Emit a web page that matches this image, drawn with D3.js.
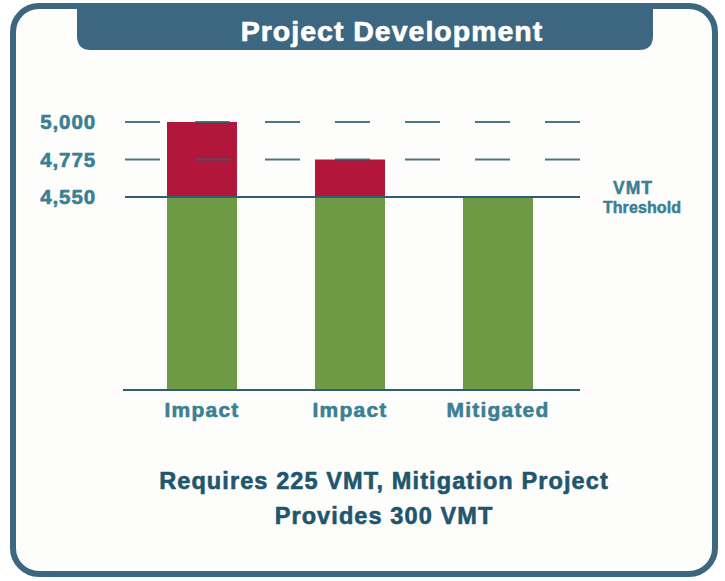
<!DOCTYPE html>
<html>
<head>
<meta charset="utf-8">
<script src="https://cdn.jsdelivr.net/npm/d3@7"></script>
<style>
  html, body { margin: 0; padding: 0; background: #ffffff; }
  svg { display: block; }
  text { font-family: "Liberation Sans", Arial, Helvetica, sans-serif; font-weight: bold; }
</style>
</head>
<body>
<svg id="chart" width="725" height="581"></svg>
<script>
// VMT per scenario
const categories = ["Impact", "Impact", "Mitigated"];
const totals = [5000, 4775, 4550];
const threshold = 4550;
const tickValues = [4550, 4775, 5000];
const dashedLevels = [4775, 5000];
const titleText = "Project Development";
const thresholdLabel = ["VMT", "Threshold"];
const noteLines = ["Requires 225 VMT, Mitigation Project", "Provides 300 VMT"];

const W = 725, H = 581;
const frameColor = "#3d6680";
const labelColor = "#3a7f94";
const lineColor = "#2f5f6f";
const green = "#6e9a45";
const red = "#b2163a";

const svg = d3.select("#chart");

// heavier glyphs: a thin outline in the fill colour
function heavy(sel, color, w) {
  sel.attr("fill", color).attr("stroke", color).attr("stroke-width", w)
     .attr("stroke-linejoin", "round").attr("paint-order", "stroke");
}

// panel frame
svg.append("rect")
  .attr("x", 13).attr("y", 6)
  .attr("width", 702).attr("height", 568)
  .attr("rx", 26).attr("ry", 26)
  .attr("fill", "#fdfdfb")
  .attr("stroke", frameColor)
  .attr("stroke-width", 6);

// title tab hanging from the top edge
const tabL = 77, tabR = 653, tabT = 4, tabB = 50, r = 14;
svg.append("path")
  .attr("d", `M${tabL},${tabT} L${tabR},${tabT} L${tabR},${tabB - r} Q${tabR},${tabB} ${tabR - r},${tabB}
              L${tabL + r},${tabB} Q${tabL},${tabB} ${tabL},${tabB - r} Z`)
  .attr("fill", frameColor);

svg.append("text")
  .attr("x", 392).attr("y", 41)
  .attr("text-anchor", "middle")
  .attr("font-size", 28.5)
  .attr("letter-spacing", 1.0)
  .call(heavy, "#ffffff", 0.7)
  .text(titleText);

// scales: broken value axis, baseline below the threshold band
const y = d3.scaleLinear()
  .domain([0, threshold, 5000])
  .range([390, 197, 122]);

const x = d3.scaleBand()
  .domain(d3.range(categories.length))
  .range([128, 572])
  .paddingInner(0.527)
  .paddingOuter(0.2635);

const bars = categories.map((c, i) => ({
  i, cat: c,
  base: Math.min(totals[i], threshold),
  excess: Math.max(0, totals[i] - threshold),
  total: totals[i]
}));

// green portion up to the threshold
svg.append("g").selectAll("rect")
  .data(bars).join("rect")
  .attr("x", d => x(d.i))
  .attr("width", x.bandwidth())
  .attr("y", d => y(d.base))
  .attr("height", d => y(0) - y(d.base))
  .attr("fill", green);

// red portion above the threshold
svg.append("g").selectAll("rect")
  .data(bars.filter(d => d.excess > 0)).join("rect")
  .attr("x", d => x(d.i))
  .attr("width", x.bandwidth())
  .attr("y", d => y(d.total))
  .attr("height", d => y(threshold) - y(d.total))
  .attr("fill", red);

// dashed reference levels
svg.append("g").selectAll("line")
  .data(dashedLevels).join("line")
  .attr("x1", 125).attr("x2", 580)
  .attr("y1", d => y(d)).attr("y2", d => y(d))
  .attr("stroke", lineColor)
  .attr("stroke-opacity", 0.85)
  .attr("stroke-width", 2)
  .attr("stroke-dasharray", "35,35");

// threshold line
svg.append("line")
  .attr("x1", 125).attr("x2", 580)
  .attr("y1", y(threshold)).attr("y2", y(threshold))
  .attr("stroke", lineColor)
  .attr("stroke-width", 2);

// baseline
svg.append("line")
  .attr("x1", 123).attr("x2", 580)
  .attr("y1", y(0)).attr("y2", y(0))
  .attr("stroke", lineColor)
  .attr("stroke-width", 2);

// value axis labels
const yAxis = svg.append("g")
  .attr("transform", "translate(96,0)")
  .call(d3.axisLeft(y).tickValues(tickValues).tickSize(0).tickPadding(0).tickFormat(d3.format(",")));
yAxis.select(".domain").remove();
yAxis.selectAll("text")
  .attr("font-size", 20.5)
  .attr("letter-spacing", 0.9)
  .attr("font-family", "Liberation Sans, Arial, sans-serif")
  .attr("font-weight", "bold")
  .call(heavy, labelColor, 0.6);

// category labels
const xAxis = svg.append("g")
  .attr("transform", `translate(0,${y(0)})`)
  .call(d3.axisBottom(x).tickSize(0).tickPadding(12).tickFormat(i => categories[i]));
xAxis.select(".domain").remove();
xAxis.selectAll("text")
  .attr("font-size", 21)
  .attr("letter-spacing", 1.2)
  .attr("font-family", "Liberation Sans, Arial, sans-serif")
  .attr("font-weight", "bold")
  .call(heavy, labelColor, 0.6);

// threshold label
svg.append("text")
  .attr("x", 633).attr("y", 194)
  .attr("text-anchor", "middle")
  .attr("font-size", 17.5)
  .attr("letter-spacing", 1.0)
  .call(heavy, labelColor, 0.5)
  .text(thresholdLabel[0]);
svg.append("text")
  .attr("x", 642).attr("y", 213)
  .attr("text-anchor", "middle")
  .attr("font-size", 16)
  .attr("letter-spacing", 0.1)
  .call(heavy, labelColor, 0.5)
  .text(thresholdLabel[1]);

// note under the chart
svg.append("g").selectAll("text")
  .data(noteLines).join("text")
  .attr("x", 384)
  .attr("y", (d, i) => 489 + i * 34.5)
  .attr("text-anchor", "middle")
  .attr("font-size", 23.5)
  .attr("letter-spacing", 1.1)
  .call(heavy, "#1f566e", 0.6)
  .text(d => d);
</script>
</body>
</html>
